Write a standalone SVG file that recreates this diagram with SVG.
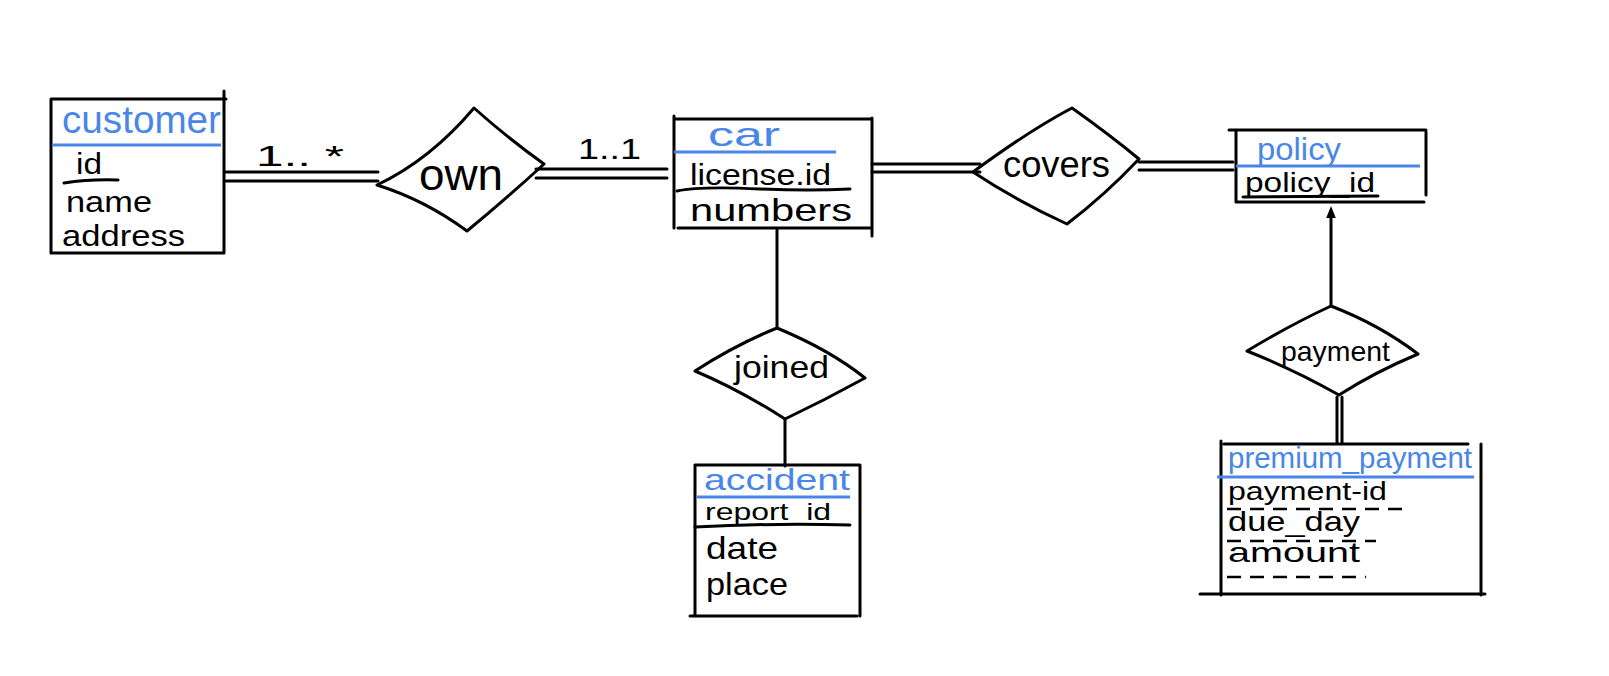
<svg xmlns="http://www.w3.org/2000/svg" width="1609" height="676" viewBox="0 0 1609 676">
<style>
.ln{stroke:#000;stroke-width:3;fill:none;stroke-linecap:round;stroke-linejoin:round}
.bl{stroke:#4a86e8;stroke-width:3;fill:none}
.dsh{stroke:#000;stroke-width:2.4;fill:none;stroke-dasharray:14 9}
.t{font-family:"Liberation Sans",Arial,sans-serif;fill:#000}
.tb{font-family:"Liberation Sans",Arial,sans-serif;fill:#4a86e8}
</style>
<defs>
<marker id="arr" viewBox="0 0 10 10" refX="5" refY="5" markerWidth="4" markerHeight="4" orient="auto-start-reverse">
<path d="M0,1 L10,5 L0,9 z" fill="#000"/>
</marker>
</defs>
<rect width="1609" height="676" fill="#fff"/>

<g id="connectors">
<line class="ln" x1="226" y1="172" x2="378" y2="172"/>
<line class="ln" x1="226" y1="181" x2="378" y2="181"/>
<line class="ln" x1="536" y1="169" x2="667" y2="169"/>
<line class="ln" x1="536" y1="178" x2="667" y2="178"/>
<line class="ln" x1="872" y1="164" x2="980" y2="164"/>
<line class="ln" x1="872" y1="172" x2="980" y2="172"/>
<line class="ln" x1="1139" y1="162" x2="1233" y2="162"/>
<line class="ln" x1="1139" y1="170" x2="1233" y2="170"/>
<line class="ln" x1="777" y1="230" x2="777" y2="328"/>
<line class="ln" x1="785" y1="419" x2="785" y2="466"/>
<line class="ln" x1="1331" y1="306" x2="1331" y2="212" marker-end="url(#arr)"/>
<line class="ln" x1="1337" y1="397" x2="1337" y2="443"/>
<line class="ln" x1="1342" y1="397" x2="1342" y2="443"/>
<text class="t" x="256" y="166" font-size="30" textLength="88" lengthAdjust="spacingAndGlyphs">1.. *</text>
<text class="t" x="578" y="159" font-size="30" textLength="63" lengthAdjust="spacingAndGlyphs">1..1</text>
</g>

<g id="customer">
<path class="ln" d="M51,99 L226,99 M224,91 L224,253 M51,99 L51,253 L224,253"/>
<line class="bl" x1="52" y1="145" x2="221" y2="145"/>
<text class="tb" x="62" y="133" font-size="38" textLength="159" lengthAdjust="spacingAndGlyphs">customer</text>
<text class="t" x="76" y="174" font-size="30" textLength="26" lengthAdjust="spacingAndGlyphs">id</text>
<path class="ln" d="M64,183 Q90,179 118,180"/>
<text class="t" x="66" y="212" font-size="30" textLength="86" lengthAdjust="spacingAndGlyphs">name</text>
<text class="t" x="62" y="246" font-size="30" textLength="123" lengthAdjust="spacingAndGlyphs">address</text>
</g>

<g id="own">
<path class="ln" d="M377,185 Q430,160 474,108 Q510,140 544,164 Q505,200 467,231 Q425,200 377,185 Z"/>
<text class="t" x="419" y="190" font-size="44" textLength="84" lengthAdjust="spacingAndGlyphs">own</text>
</g>

<g id="car">
<path class="ln" d="M674,116 L674,228 M674,119 L872,119 M872,118 L872,236 M678,228 L872,228"/>
<line class="bl" x1="674" y1="152" x2="836" y2="152"/>
<text class="tb" x="708" y="146" font-size="34" textLength="72" lengthAdjust="spacingAndGlyphs">car</text>
<text class="t" x="690" y="185" font-size="30" textLength="141" lengthAdjust="spacingAndGlyphs">license.id</text>
<path class="ln" d="M677,191 Q700,186 760,189 Q810,191 850,189"/>
<text class="t" x="690" y="221" font-size="32" textLength="162" lengthAdjust="spacingAndGlyphs">numbers</text>
</g>

<g id="covers">
<path class="ln" d="M973,172 Q1030,130 1072,108 Q1110,135 1139,159 Q1105,195 1067,224 Q1015,200 973,172 Z"/>
<text class="t" x="1003" y="177" font-size="36" textLength="107" lengthAdjust="spacingAndGlyphs">covers</text>
</g>

<g id="policy">
<path class="ln" d="M1229,130 L1426,130 M1236,130 L1236,202 M1426,132 L1426,195 M1236,202 L1424,202"/>
<line class="bl" x1="1236" y1="166" x2="1420" y2="166"/>
<text class="tb" x="1257" y="160" font-size="32" textLength="84" lengthAdjust="spacingAndGlyphs">policy</text>
<text class="t" x="1245" y="192" font-size="28" textLength="130" lengthAdjust="spacingAndGlyphs">policy_id</text>
<line class="ln" x1="1243" y1="197" x2="1378" y2="196"/>
</g>

<g id="joined">
<path class="ln" d="M777,328 Q830,350 865,378 Q825,400 785,419 Q740,390 695,371 Q735,345 777,328 Z"/>
<text class="t" x="734" y="378" font-size="32" textLength="95" lengthAdjust="spacingAndGlyphs">joined</text>
</g>

<g id="accident">
<path class="ln" d="M695,465 L860,465 M695,465 L695,616 M860,465 L860,616 M690,616 L857,616"/>
<line class="bl" x1="697" y1="497" x2="850" y2="497"/>
<text class="tb" x="704" y="490" font-size="29" textLength="146" lengthAdjust="spacingAndGlyphs">accident</text>
<text class="t" x="705" y="520" font-size="24" textLength="126" lengthAdjust="spacingAndGlyphs">report_id</text>
<path class="ln" d="M695,527 Q770,523 850,525"/>
<text class="t" x="706" y="559" font-size="32" textLength="72" lengthAdjust="spacingAndGlyphs">date</text>
<text class="t" x="706" y="595" font-size="32" textLength="82" lengthAdjust="spacingAndGlyphs">place</text>
</g>

<g id="payment">
<path class="ln" d="M1331,306 Q1380,325 1418,354 Q1375,372 1339,395 Q1295,370 1247,351 Q1290,325 1331,306 Z"/>
<text class="t" x="1281" y="361" font-size="28" textLength="109" lengthAdjust="spacingAndGlyphs">payment</text>
</g>

<g id="premium_payment">
<path class="ln" d="M1224,444 L1468,444 M1221,441 L1221,595 M1481,444 L1481,595 M1200,594 L1485,594"/>
<line class="bl" x1="1217" y1="477" x2="1474" y2="477"/>
<text class="tb" x="1228" y="468" font-size="30" textLength="244" lengthAdjust="spacingAndGlyphs">premium_payment</text>
<text class="t" x="1228" y="500" font-size="26" textLength="159" lengthAdjust="spacingAndGlyphs">payment-id</text>
<line class="dsh" x1="1227" y1="509" x2="1410" y2="509"/>
<text class="t" x="1228" y="531" font-size="28" textLength="132" lengthAdjust="spacingAndGlyphs">due_day</text>
<line class="dsh" x1="1227" y1="541" x2="1376" y2="541"/>
<text class="t" x="1228" y="562" font-size="28" textLength="132" lengthAdjust="spacingAndGlyphs">amount</text>
<line class="dsh" x1="1227" y1="577" x2="1366" y2="577"/>
</g>
</svg>
